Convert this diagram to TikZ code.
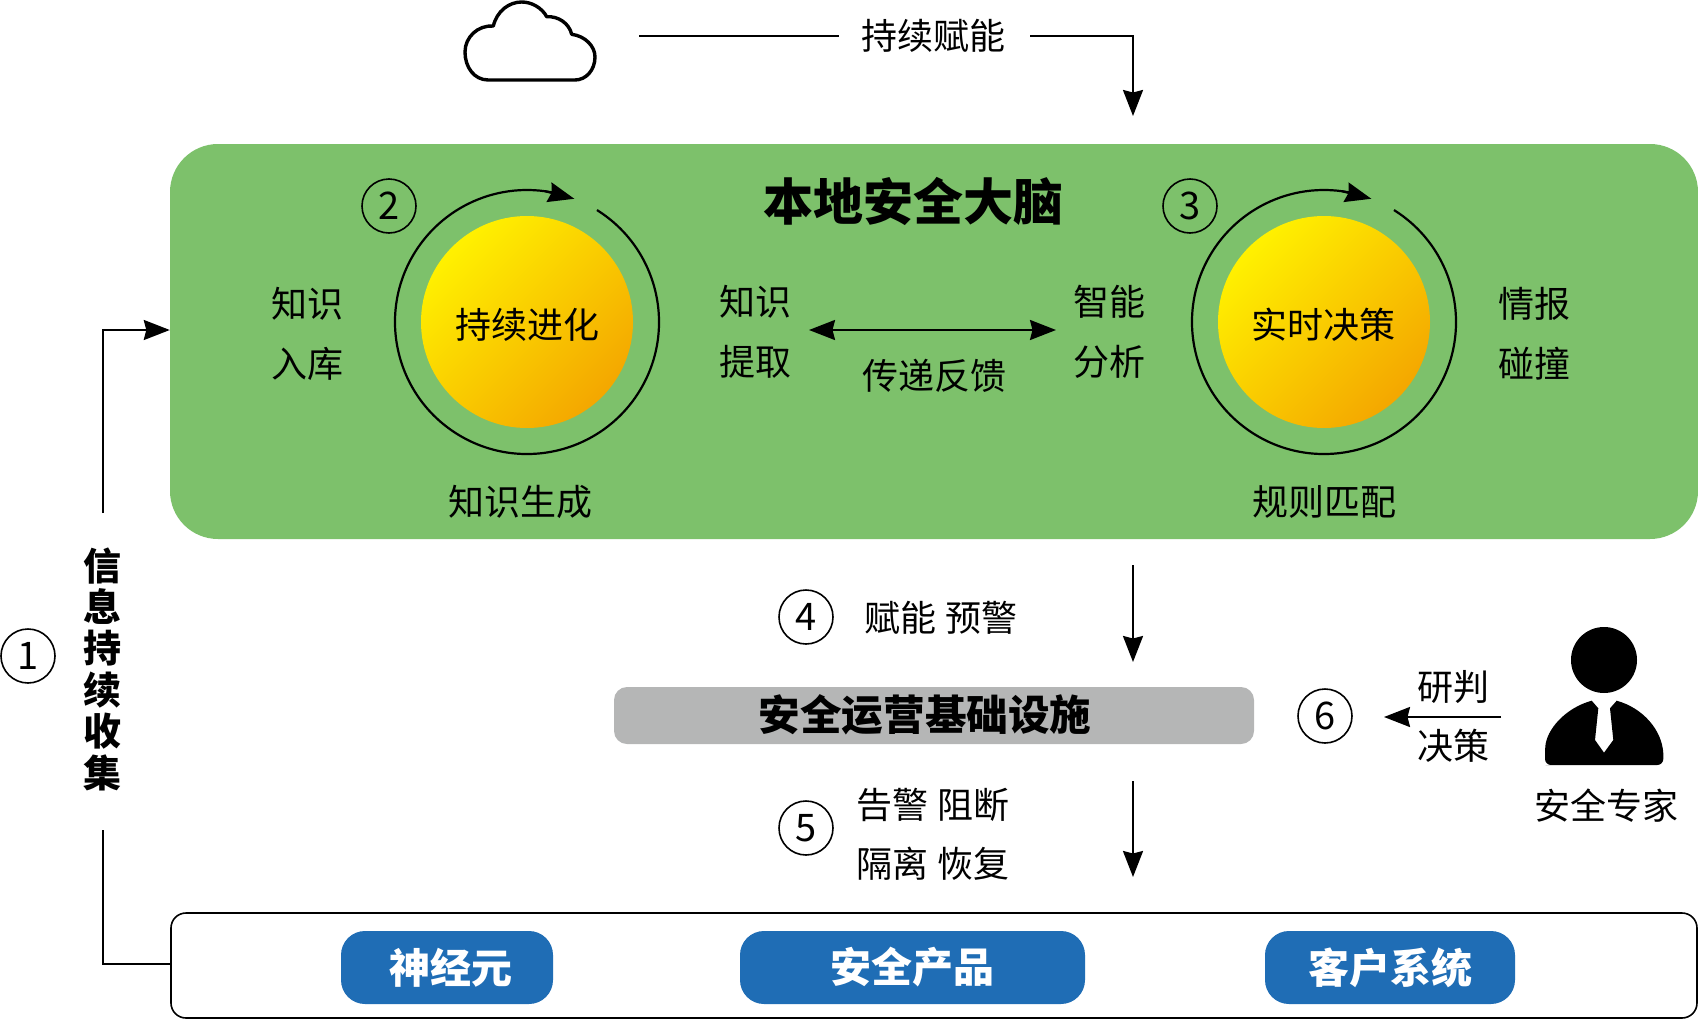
\documentclass[tikz,border=0pt]{standalone}
\usepackage{fontspec}
\setmainfont{Noto Sans CJK SC}
\usetikzlibrary{arrows.meta,shadings}
\definecolor{brainG}{HTML}{7DC16B}
\definecolor{infraG}{HTML}{B5B6B6}
\definecolor{btnB}{HTML}{1F6DB5}
\definecolor{sunA}{HTML}{FFF100}
\definecolor{sunB}{HTML}{F4A700}
\newcommand{\fs}[1]{\fontsize{#1}{#1}\selectfont}
\tikzset{
  x=1pt,y=-1pt,
  tip/.tip={Stealth[length=26pt,width=20pt,inset=2.5pt]},
  line/.style={draw=black,line width=2.2pt},
  arrow/.style={line,-tip},
  lbl/.style={inner sep=0pt,text height=31.7pt,text depth=4.3pt,font=\fs{36}},
  blbl/.style={inner sep=0pt,text height=36.6pt,text depth=5pt,font=\fs{41.6}\bfseries},
  numc/.style={circle,draw=black,line width=1.6pt,minimum size=54pt,inner sep=0pt,font=\fs{38}},
  sun/.style={circle,minimum size=212pt,inner sep=0pt,top color=sunA,bottom color=sunB,shading angle=45},
  btn/.style={draw=none,fill=btnB,rounded corners=24pt,inner sep=0pt,text=white,font=\fs{41}\bfseries},
}
\begin{document}
\begin{tikzpicture}
\useasboundingbox (0,0) rectangle (1698,1020);
% containers
\node[fill=brainG,rounded corners=48pt,minimum width=1528pt,minimum height=395pt,inner sep=0pt] (brain) at (934,341.5) {};
\node[fill=infraG,rounded corners=13pt,minimum width=640pt,minimum height=57pt,inner sep=0pt] (infra) at (934,715.5) {};
\node[blbl] (infratxt) at (925,715) {安全运营基础设施};
\node[draw=black,line width=1.6pt,fill=white,rounded corners=15pt,minimum width=1526pt,minimum height=105pt,inner sep=0pt] (floor) at (934,965.5) {};
\node[btn,minimum width=212pt,minimum height=73pt] (b1) at (447,967.5) {\hspace*{8pt}神经元};
\node[btn,minimum width=345pt,minimum height=73pt] (b2) at (912.5,967.5) {安全产品};
\node[btn,minimum width=250pt,minimum height=73pt] (b3) at (1390,967.5) {客户系统};
% cloud
\draw[line width=3.4pt,line join=round] (488.3,80)
  .. controls (474,80) and (465,67) .. (465,52)
  .. controls (465,37) and (478,25) .. (493.3,26)
  .. controls (497,11) and (509,2) .. (521.7,2)
  .. controls (532,2) and (542,8) .. (546.7,16.7)
  .. controls (558,16) and (569,23) .. (571.7,34.3)
  .. controls (585,36) and (595,46) .. (595,57)
  .. controls (595,70) and (586,80) .. (575,80) -- cycle;
\coordinate (cloudR) at (639,36);
\node[lbl] (feed) at (933,36) {持续赋能};
\coordinate (feedDown) at (1133,116);
\draw[line] (cloudR) -- (839,36);
\draw[arrow] (1030,36) -- (1133,36) -- (feedDown);
% suns
\node[sun] (s1) at (527,322) {};
\node[sun] (s2) at (1324,322) {};
\node[lbl] (s1t) at (527,325) {持续进化};
\node[lbl] (s2t) at (1323,325) {实时决策};
\draw[line] ([shift={(58:132pt)}]s1.center) arc[start angle=58,end angle=-285,radius=132pt];
\draw[line] ([shift={(58:132pt)}]s2.center) arc[start angle=58,end angle=-285,radius=132pt];
\draw[arrow] ([shift={(82:132pt)}]s1.center) -- ([shift={(69:132pt)}]s1.center);
\draw[arrow] ([shift={(82:132pt)}]s2.center) -- ([shift={(69:132pt)}]s2.center);
\node[inner sep=0pt,text height=44pt,text depth=6pt,font=\fs{50}\bfseries] (title) at (913,201) {本地安全大脑};
\node[numc] (n2) at (389,206) {2};
\node[numc] (n3) at (1190,206) {3};
\node[numc] (n1) at (28,656) {1};
\node[numc] (n4) at (806,617) {4};
\node[numc] (n5) at (806,828) {5};
\node[numc] (n6) at (1325,716) {6};
% brain labels
\node[lbl] (a1) at (307.5,304) {知识};
\node[lbl] (a2) at (307.5,364) {入库};
\node[lbl] (b1a) at (755,302) {知识};
\node[lbl] (b2a) at (755,362) {提取};
\node[lbl] (c1) at (1109,302) {智能};
\node[lbl] (c2) at (1109,362) {分析};
\node[lbl] (d1) at (1534.5,304) {情报};
\node[lbl] (d2) at (1534.5,364) {碰撞};
\node[lbl] (e1) at (520,502) {知识生成};
\node[lbl] (e2) at (1324,502) {规则匹配};
\node[lbl] (pass) at (934.5,376) {传递反馈};
\coordinate (pL) at (809,330);
\coordinate (pR) at (1056,330);
\draw[line,tip-tip] (pL) -- (pR);
% down flow
\coordinate (f4a) at (1133,565);
\coordinate (f4b) at (1133,662);
\draw[arrow] (f4a) -- (f4b);
\node[lbl] (t4) at (941,618) {赋能 预警};
\coordinate (f5a) at (1133,781);
\coordinate (f5b) at (1133,877);
\draw[arrow] (f5a) -- (f5b);
\node[lbl] (t5a) at (933,805) {告警 阻断};
\node[lbl] (t5b) at (933,864) {隔离 恢复};
% expert
\fill (1604,660) circle[radius=33pt];
\fill[rounded corners=6pt] (1551.7,765) -- (1545,765) -- (1545,753.3) [sharp corners]
  .. controls (1546,730) and (1565,708) .. (1591.7,700.7)
  -- (1598.3,708.3) -- (1595,740) -- (1604,752.7) -- (1613.3,740) -- (1610,708.3) -- (1616.7,700.7)
  .. controls (1643,708) and (1662,730) .. (1663.3,753.3)
  [rounded corners=6pt] -- (1663.3,765) -- cycle;
\node[lbl] (expert) at (1606,806) {安全专家};
\node[lbl] (t6a) at (1453,687) {研判};
\node[lbl] (t6b) at (1453,746) {决策};
\coordinate (f6a) at (1501,717);
\coordinate (f6b) at (1384,717);
\draw[arrow] (f6a) -- (f6b);
% left collection
\node[inner sep=0pt,align=center,font=\fontsize{38}{41.4}\selectfont\bfseries] (col) at (102,669) {信\\息\\持\\续\\收\\集};
\coordinate (cT) at (103,513);
\coordinate (cB) at (103,830);
\draw[line] (cB) -- (103,964) -- (floor.west |- 0,964);
\draw[arrow] (cT) -- (103,330) -- (brain.west |- 0,330);
\end{tikzpicture}
\end{document}
